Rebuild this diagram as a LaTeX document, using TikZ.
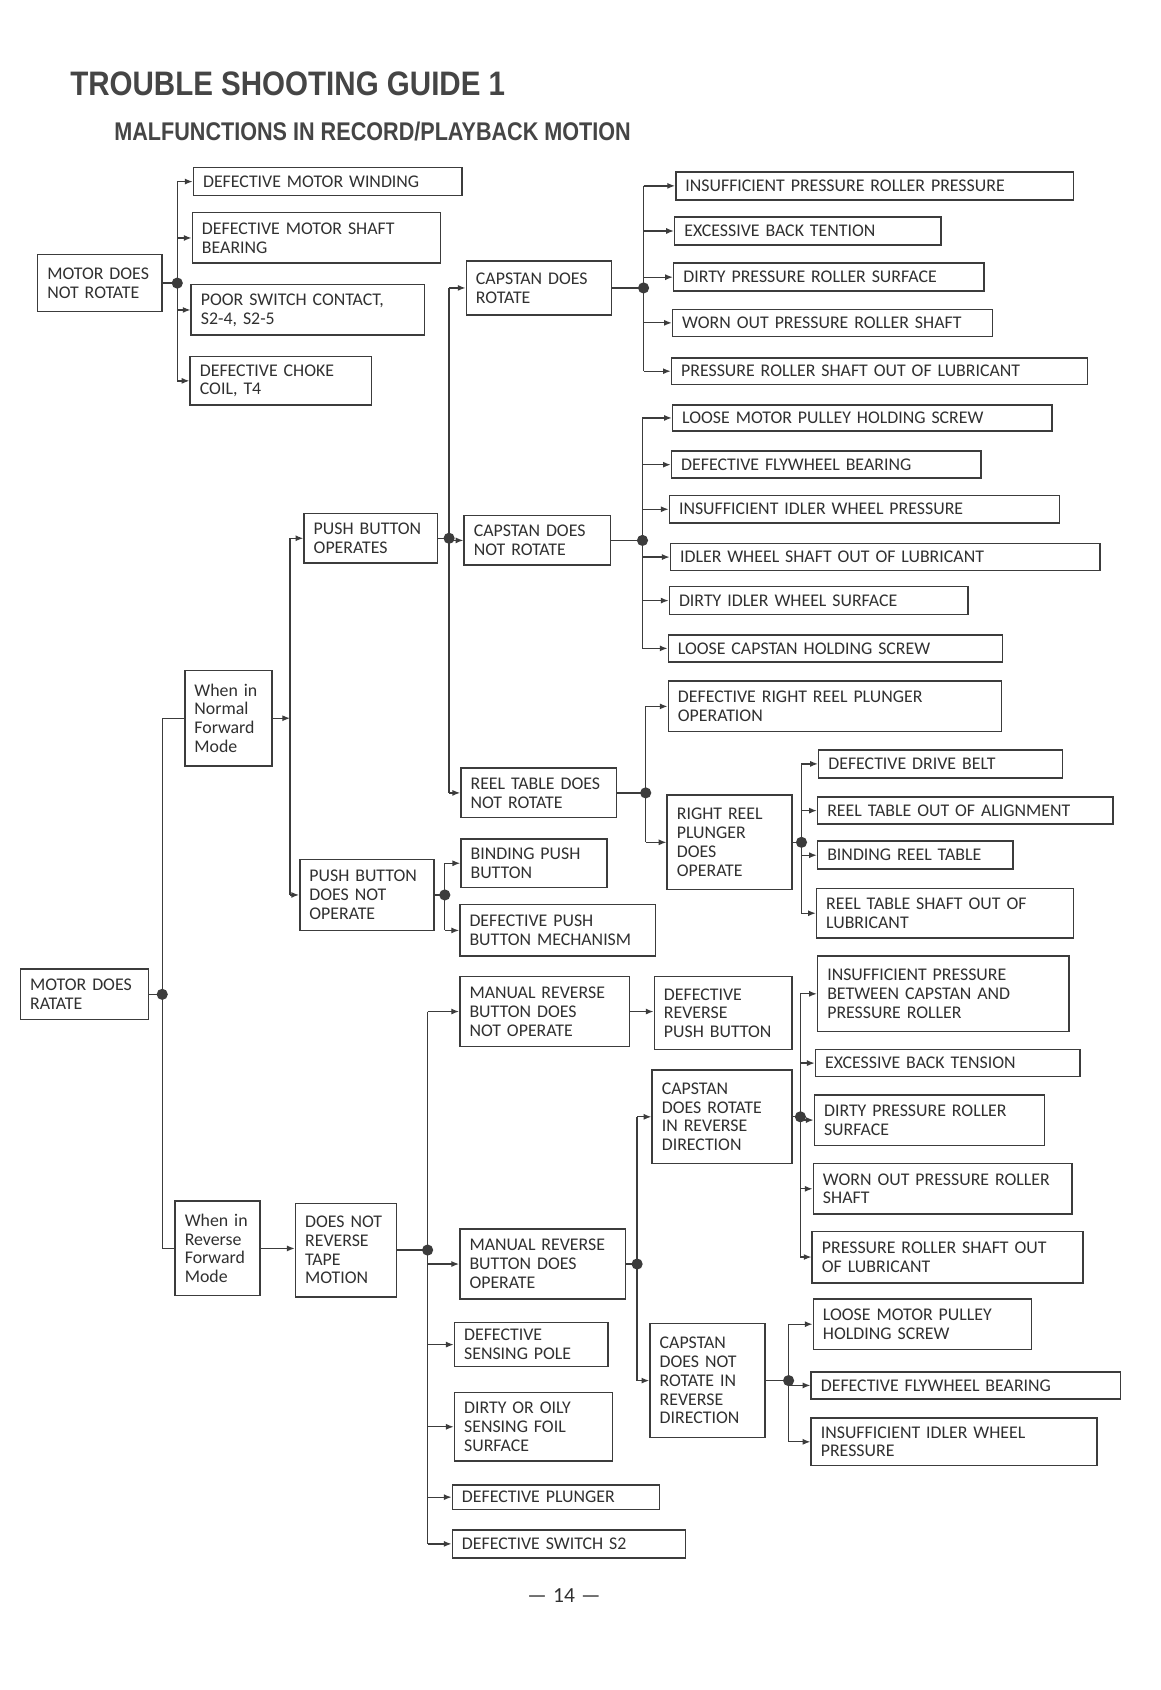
\documentclass[tikz,border=0pt]{standalone}
\usepackage{fontspec}
\usepackage{graphicx}
\setmainfont{Carlito}[WordSpace=1.3]
\newfontfamily\titlefont{Liberation Sans}
\usetikzlibrary{arrows.meta,calc}
\definecolor{ink}{HTML}{303030}
\definecolor{wire}{HTML}{3C3C3C}
\definecolor{ttl}{HTML}{454545}
\tikzset{
  box/.style={draw=wire, line width=0.7pt, inner xsep=4.5pt, inner ysep=0pt,
    align=left, font=\fontsize{8.3}{8.75}\selectfont, text=ink},
  conn/.style={draw=wire, line width=0.6pt},
  arr/.style={conn, -{Latex[length=3.6pt,width=2.8pt]}},
}
\newcommand\bx[6]{%
  \pgfmathsetmacro\bxh{(#5-#3)*0.5}%
  \pgfmathsetmacro\bxt{(#4-#2)*0.5-9}%
  \node[box, text width=\bxt pt, minimum height=\bxh pt] (#1) at ({(#2+#4)/2},{(#3+#5)/2}) {#6};}
\newcommand\hubat[3]{%
  \coordinate (#1) at (#2.east -| #3,0);
  \draw[conn] (#2.east) -- (#1);}
\begin{document}
\begin{tikzpicture}[x=0.5pt,y=-0.5pt]
\fill[white] (0,0) rectangle (1080,1573);
\useasboundingbox (0,0) rectangle (1080,1573);

% titles
\node[anchor=base west, inner sep=0pt, text=ttl] (title) at (65,89)
  {\titlefont\bfseries\fontsize{15.8}{18}\selectfont\scalebox{0.87}[1]{TROUBLE SHOOTING GUIDE 1}};
\node[anchor=base west, inner sep=0pt, text=ttl] (subtitle) at (106,131)
  {\titlefont\bfseries\fontsize{11.9}{14}\selectfont\scalebox{0.845}[1]{MALFUNCTIONS IN RECORD/PLAYBACK MOTION}};

% boxes
\bx{A}{35}{237}{151}{290}{MOTOR DOES\\NOT ROTATE}
\bx{A1}{180}{156}{430}{182}{DEFECTIVE MOTOR WINDING}
\bx{A2}{179}{198}{410}{245}{DEFECTIVE MOTOR SHAFT\\BEARING}
\bx{A3}{178}{265}{395}{312}{POOR SWITCH CONTACT,\\S2-4, S2-5}
\bx{A4}{177}{332}{346}{377}{DEFECTIVE CHOKE\\COIL, T4}
\bx{B1}{434}{243}{569}{293}{CAPSTAN DOES\\ROTATE}
\bx{C1}{629}{160}{999}{186}{INSUFFICIENT PRESSURE ROLLER PRESSURE}
\bx{C2}{628}{202}{876}{228}{EXCESSIVE BACK TENTION}
\bx{C3}{627}{245}{916}{271}{DIRTY PRESSURE ROLLER SURFACE}
\bx{C4}{626}{288}{924}{313}{WORN OUT PRESSURE ROLLER SHAFT}
\bx{C5}{625}{333}{1012}{358}{PRESSURE ROLLER SHAFT OUT OF LUBRICANT}
\bx{P1}{283}{478}{407}{524}{PUSH BUTTON\\OPERATES}
\bx{B2}{432}{480}{568}{526}{CAPSTAN DOES\\NOT ROTATE}
\bx{D1}{626}{377}{979}{401}{LOOSE MOTOR PULLEY HOLDING SCREW}
\bx{D2}{625}{420}{913}{445}{DEFECTIVE FLYWHEEL BEARING}
\bx{D3}{623}{461}{986}{487}{INSUFFICIENT IDLER WHEEL PRESSURE}
\bx{D4}{624}{506}{1024}{531}{IDLER WHEEL SHAFT OUT OF LUBRICANT}
\bx{D5}{623}{546}{901}{572}{DIRTY IDLER WHEEL SURFACE}
\bx{D6}{622}{591}{933}{616}{LOOSE CAPSTAN HOLDING SCREW}
\bx{WN}{172}{624}{253}{713}{When in\\Normal\\Forward\\Mode}
\bx{B3}{429}{715}{574}{761}{REEL TABLE DOES\\NOT ROTATE}
\bx{E1}{622}{634}{932}{681}{DEFECTIVE RIGHT REEL PLUNGER\\OPERATION}
\bx{E2}{621}{740}{737}{828}{RIGHT REEL\\PLUNGER\\DOES\\OPERATE}
\bx{F1}{762}{698}{989}{724}{DEFECTIVE DRIVE BELT}
\bx{F2}{761}{742}{1036}{767}{REEL TABLE OUT OF ALIGNMENT}
\bx{F3}{761}{783}{943}{809}{BINDING REEL TABLE}
\bx{F4}{760}{827}{999}{873}{REEL TABLE SHAFT OUT OF\\LUBRICANT}
\bx{P2}{279}{800}{404}{866}{PUSH BUTTON\\DOES NOT\\OPERATE}
\bx{G1}{429}{781}{565}{826}{BINDING PUSH\\BUTTON}
\bx{G2}{428}{842}{610}{890}{DEFECTIVE PUSH\\BUTTON MECHANISM}
\bx{MR}{19}{902}{138}{949}{MOTOR DOES\\RATATE}
\bx{H1}{428}{909}{586}{974}{MANUAL REVERSE\\BUTTON DOES\\NOT OPERATE}
\bx{DR}{609}{909}{737}{977}{DEFECTIVE\\REVERSE\\PUSH BUTTON}
\bx{I1}{607}{996}{737}{1083}{CAPSTAN\\DOES ROTATE\\IN REVERSE\\DIRECTION}
\bx{J1}{761}{890}{995}{960}{INSUFFICIENT PRESSURE\\BETWEEN CAPSTAN AND\\PRESSURE ROLLER}
\bx{J2}{759}{977}{1005}{1002}{EXCESSIVE BACK TENSION}
\bx{J3}{758}{1019}{972}{1066}{DIRTY PRESSURE ROLLER\\SURFACE}
\bx{J4}{757}{1083}{998}{1130}{WORN OUT PRESSURE ROLLER\\SHAFT}
\bx{J5}{756}{1146}{1008}{1194}{PRESSURE ROLLER SHAFT OUT\\OF LUBRICANT}
\bx{WR}{163}{1118}{242}{1206}{When in\\Reverse\\Forward\\Mode}
\bx{DN}{275}{1120}{369}{1207}{DOES NOT\\REVERSE\\TAPE\\MOTION}
\bx{H2}{428}{1144}{582}{1209}{MANUAL REVERSE\\BUTTON DOES\\OPERATE}
\bx{H3}{423}{1231}{566}{1272}{DEFECTIVE\\SENSING POLE}
\bx{H4}{423}{1296}{570}{1360}{DIRTY OR OILY\\SENSING FOIL\\SURFACE}
\bx{H5}{421}{1382}{614}{1405}{DEFECTIVE PLUNGER}
\bx{H6}{421}{1424}{638}{1450}{DEFECTIVE SWITCH S2}
\bx{I2}{605}{1232}{712}{1338}{CAPSTAN\\DOES NOT\\ROTATE IN\\REVERSE\\DIRECTION}
\bx{K1}{757}{1209}{960}{1256}{LOOSE MOTOR PULLEY\\HOLDING SCREW}
\bx{K2}{755}{1277}{1043}{1302}{DEFECTIVE FLYWHEEL BEARING}
\bx{K3}{755}{1320}{1021}{1364}{INSUFFICIENT IDLER WHEEL\\PRESSURE}

% hubs
\hubat{hA}{A}{165}
\hubat{hB1}{B1}{599}
\hubat{hB2}{B2}{598}
\hubat{hB3}{B3}{601}
\hubat{hE2}{E2}{746}
\hubat{hP1}{P1}{418}
\hubat{hP2}{P2}{414}
\hubat{hMR}{MR}{151}
\hubat{hDN}{DN}{398}
\hubat{hH2}{H2}{593}
\hubat{hI1}{I1}{745}
\hubat{hI2}{I2}{734}

% spines and arrows
\draw[conn] (hA |- A1.west) -- (hA |- A4.west);
\foreach \c in {A1,A2,A3,A4} \draw[arr] (hA |- \c.west) -- (\c.west);

\draw[conn] (hB1 |- C1.west) -- (hB1 |- C5.west);
\foreach \c in {C1,C2,C3,C4,C5} \draw[arr] (hB1 |- \c.west) -- (\c.west);

\draw[conn] (hB2 |- D1.west) -- (hB2 |- D6.west);
\foreach \c in {D1,D2,D3,D4,D5,D6} \draw[arr] (hB2 |- \c.west) -- (\c.west);

\draw[conn] (hB3 |- E1.west) -- (hB3 |- E2.west);
\foreach \c in {E1,E2} \draw[arr] (hB3 |- \c.west) -- (\c.west);

\draw[conn] (hE2 |- F1.west) -- (hE2 |- F4.west);
\foreach \c in {F1,F2,F3,F4} \draw[arr] (hE2 |- \c.west) -- (\c.west);

\draw[conn] (hP1 |- B1.west) -- (hP1 |- B3.west);
\foreach \c in {B1,B2,B3} \draw[arr] (hP1 |- \c.west) -- (\c.west);

\draw[conn] (hP2 |- G1.west) -- (hP2 |- G2.west);
\foreach \c in {G1,G2} \draw[arr] (hP2 |- \c.west) -- (\c.west);

\coordinate (sN) at (WN.east -| 270,0);
\draw[arr] (WN.east) -- (sN);
\draw[conn] (sN |- P1.west) -- (sN |- P2.west);
\foreach \c in {P1,P2} \draw[arr] (sN |- \c.west) -- (\c.west);

\draw[conn] (hMR |- WN.west) -- (hMR |- WR.west);
\foreach \c in {WN,WR} \draw[conn] (hMR |- \c.west) -- (\c.west);

\draw[arr] (WR.east) -- (DN.west |- WR.east);

\draw[conn] (hDN |- H1.west) -- (hDN |- H6.west);
\foreach \c in {H1,H2,H3,H4,H5,H6} \draw[arr] (hDN |- \c.west) -- (\c.west);

\draw[arr] (H1.east) -- (DR.west |- H1.east);

\draw[conn] (hH2 |- I1.west) -- (hH2 |- I2.west);
\foreach \c in {I1,I2} \draw[arr] (hH2 |- \c.west) -- (\c.west);

\draw[conn] (hI1 |- J1.west) -- (hI1 |- J5.west);
\foreach \c in {J1,J2,J3,J4,J5} \draw[arr] (hI1 |- \c.west) -- (\c.west);

\draw[conn] (hI2 |- K1.west) -- (hI2 |- K3.west);
\foreach \c in {K1,K2,K3} \draw[arr] (hI2 |- \c.west) -- (\c.west);

% junction dots
\foreach \h in {hA,hB1,hB2,hB3,hE2,hP1,hP2,hMR,hDN,hH2,hI1,hI2}
  \fill[wire] (\h) circle (2.6pt);

% page number
\node[text=ink, font=\fontsize{10}{12}\selectfont] (page) at (525,1485) {— 14 —};
\end{tikzpicture}
\end{document}
